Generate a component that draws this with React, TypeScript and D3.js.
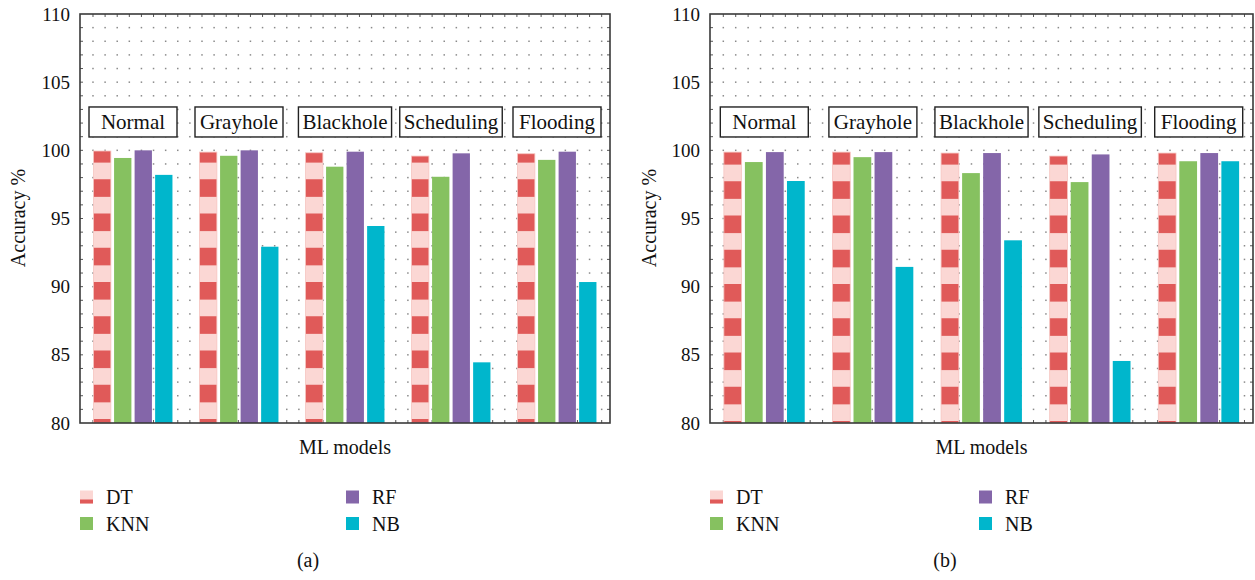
import React, { useEffect, useRef } from 'react';
import * as d3 from 'd3';

// attack categories and models
const categories = ['Normal', 'Grayhole', 'Blackhole', 'Scheduling', 'Flooding'];
const models = ['DT', 'KNN', 'RF', 'NB'];
const yTicks = [80, 85, 90, 95, 100, 105, 110];

// panel (a) accuracy values
const dtA = [99.95, 99.87, 99.82, 99.58, 99.75];
const knnA = [99.44, 99.6, 98.8, 98.06, 99.3];
const rfA = [100, 100, 99.9, 99.78, 99.9];
const nbA = [98.2, 92.93, 94.45, 84.45, 90.34];

// panel (b) accuracy values
const dtB = [99.87, 99.87, 99.8, 99.58, 99.8];
const knnB = [99.14, 99.5, 98.33, 97.67, 99.2];
const rfB = [99.87, 99.87, 99.8, 99.7, 99.8];
const nbB = [97.75, 91.45, 93.4, 84.55, 99.2];

const colors = {
  DT: '#e05a59',
  DTlight: '#fbd7d4',
  KNN: '#86c160',
  RF: '#8466a9',
  NB: '#00b6cc'
};

const FONT = '"Liberation Serif", "Times New Roman", serif';

const panels = [
  { id: 'a', left: 80, right: 610, stripeY: 419, yLabelX: 18, rfLegend: 266, caption: '(a)', captionX: 308,
    values: { DT: dtA, KNN: knnA, RF: rfA, NB: nbA } },
  { id: 'b', left: 710, right: 1253, stripeY: 421, yLabelX: 649, rfLegend: 269, caption: '(b)', captionX: 945,
    values: { DT: dtB, KNN: knnB, RF: rfB, NB: nbB } }
];

const top = 14;
const bottom = 423;

function drawPanel(svg, p) {
  const w = p.right - p.left;
  const y = d3.scaleLinear().domain([80, 110]).range([bottom, top]);
  const x0 = d3.scaleBand().domain(categories).range([p.left, p.right]);
  const x1 = d3.scaleBand().domain(models).range([0, x0.bandwidth()])
    .paddingInner(0.156).paddingOuter(0.66);

  // striped fill for DT, anchored in pixel space
  const defs = svg.append('defs');
  const pat = defs.append('pattern')
    .attr('id', 'stripe-' + p.id)
    .attr('patternUnits', 'userSpaceOnUse')
    .attr('x', 0).attr('y', p.stripeY)
    .attr('width', 2000).attr('height', 34.25);
  pat.append('rect').attr('width', 2000).attr('height', 34.25).attr('fill', colors.DTlight);
  pat.append('rect').attr('width', 2000).attr('height', 17.6).attr('fill', colors.DT);

  const g = svg.append('g');

  // dotted grid
  const gx = d3.scaleLinear().domain([0, 42]).range([p.left + w * 0.0245, p.right - w * 0.0157]);
  const cols = d3.range(43).map(gx);
  const rows = d3.range(81, 110);
  const dots = [];
  cols.forEach((cx) => rows.forEach((r) => dots.push([cx, y(r)])));
  g.append('g').selectAll('rect').data(dots).enter().append('rect')
    .attr('x', (d) => d[0] - 0.75).attr('y', (d) => d[1] - 0.75)
    .attr('width', 1.5).attr('height', 1.5)
    .attr('fill', '#8a8a8a');

  // minor ticks on all four sides
  const ticks = g.append('g').attr('stroke', '#555').attr('stroke-width', 1);
  rows.forEach((r) => {
    ticks.append('line').attr('x1', p.left).attr('x2', p.left + 3).attr('y1', y(r)).attr('y2', y(r));
    ticks.append('line').attr('x1', p.right).attr('x2', p.right - 3).attr('y1', y(r)).attr('y2', y(r));
  });
  cols.forEach((cx) => {
    ticks.append('line').attr('x1', cx).attr('x2', cx).attr('y1', top).attr('y2', top + 3);
    ticks.append('line').attr('x1', cx).attr('x2', cx).attr('y1', bottom).attr('y2', bottom - 3);
  });

  // bars
  models.forEach((m) => {
    const vals = p.values[m];
    g.append('g').selectAll('rect').data(categories).enter().append('rect')
      .attr('x', (c) => x0(c) + x1(m))
      .attr('y', (c, i) => y(vals[i]))
      .attr('width', x1.bandwidth())
      .attr('height', (c, i) => bottom - y(vals[i]))
      .attr('fill', m === 'DT' ? `url(#stripe-${p.id})` : colors[m])
      .attr('stroke', m === 'DT' ? '#f6c4c0' : 'none')
      .attr('stroke-width', m === 'DT' ? 0.8 : 0);
  });

  // category label boxes
  categories.forEach((c) => {
    const cx = x0(c) + x0.bandwidth() / 2;
    const cy = y(102.08);
    const lg = g.append('g');
    const rect = lg.append('rect');
    const t = lg.append('text')
      .attr('x', cx).attr('y', cy).attr('dy', '0.33em')
      .attr('text-anchor', 'middle')
      .style('font-family', FONT).style('font-size', '21px')
      .attr('fill', '#111')
      .text(c);
    const tw = t.node().getComputedTextLength();
    const bw = Math.max(88, tw + 8);
    rect.attr('x', cx - bw / 2).attr('y', cy - 15)
      .attr('width', bw).attr('height', 30)
      .attr('fill', '#fff').attr('stroke', '#222').attr('stroke-width', 1.4);
  });

  // frame
  g.append('rect')
    .attr('x', p.left).attr('y', top)
    .attr('width', w).attr('height', bottom - top)
    .attr('fill', 'none').attr('stroke', '#3a3a3a').attr('stroke-width', 1.6);

  // y tick labels
  g.append('g').selectAll('text').data(yTicks).enter().append('text')
    .attr('x', p.left - 10).attr('y', (d) => y(d)).attr('dy', '0.35em')
    .attr('text-anchor', 'end')
    .style('font-family', FONT).style('font-size', '19px')
    .attr('fill', '#111')
    .text((d) => d);

  // axis titles
  g.append('text')
    .attr('transform', `translate(${p.yLabelX},218) rotate(-90)`)
    .attr('dy', '0.35em').attr('text-anchor', 'middle')
    .style('font-family', FONT).style('font-size', '20px').attr('fill', '#111')
    .text('Accuracy %');
  g.append('text')
    .attr('x', (p.left + p.right) / 2).attr('y', 454)
    .attr('text-anchor', 'middle')
    .style('font-family', FONT).style('font-size', '20px').attr('fill', '#111')
    .text('ML models');

  // legend
  const legendPos = [
    { m: 'DT', dx: 0, y: 497 },
    { m: 'KNN', dx: 0, y: 523.5 },
    { m: 'RF', dx: p.rfLegend, y: 497 },
    { m: 'NB', dx: p.rfLegend, y: 523.5 }
  ];
  legendPos.forEach((l) => {
    const lx = p.left + l.dx;
    if (l.m === 'DT') {
      g.append('rect').attr('x', lx).attr('y', l.y - 6.5).attr('width', 13).attr('height', 13).attr('fill', colors.DTlight);
      g.append('rect').attr('x', lx).attr('y', l.y + 2.5).attr('width', 13).attr('height', 4).attr('fill', colors.DT);
    } else {
      g.append('rect').attr('x', lx).attr('y', l.y - 6.5).attr('width', 13).attr('height', 13).attr('fill', colors[l.m]);
    }
    g.append('text')
      .attr('x', lx + 26).attr('y', l.y).attr('dy', '0.35em')
      .style('font-family', FONT).style('font-size', '20px').attr('fill', '#111')
      .text(l.m);
  });

  // caption
  g.append('text')
    .attr('x', p.captionX).attr('y', 567)
    .attr('text-anchor', 'middle')
    .style('font-family', FONT).style('font-size', '20px').attr('fill', '#111')
    .text(p.caption);
}

export default function App() {
  const ref = useRef(null);

  useEffect(() => {
    const svg = d3.select(ref.current);
    svg.selectAll('*').remove();
    panels.forEach((p) => drawPanel(svg, p));
  }, []);

  return (
    <svg
      ref={ref}
      width={1255}
      height={580}
      style={{ position: 'absolute', left: 0, top: 0, background: '#fff' }}
    />
  );
}
